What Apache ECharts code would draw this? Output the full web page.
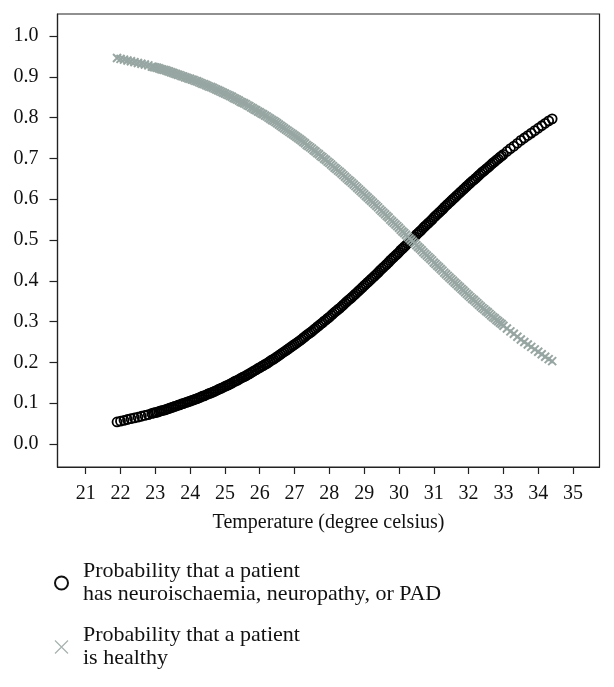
<!DOCTYPE html>
<html><head><meta charset="utf-8">
<script src="https://cdn.jsdelivr.net/npm/echarts@6/dist/echarts.min.js"></script>
<style>html,body{margin:0;padding:0;background:#fff}#c{width:614px;height:687px}</style>
</head><body><div id="c"></div>
<script>
const temperature = [
21.9,22.0,22.1,22.2,22.3,22.4,22.5,22.6,22.7,22.8,
22.9,23.0,23.1,23.2,23.3,23.4,23.5,23.6,23.7,23.8,
23.9,24.0,24.1,24.2,24.3,24.4,24.5,24.6,24.7,24.8,
24.9,25.0,25.1,25.2,25.3,25.4,25.5,25.6,25.7,25.8,
25.9,26.0,26.1,26.2,26.3,26.4,26.5,26.6,26.7,26.8,
26.9,27.0,27.1,27.2,27.3,27.4,27.5,27.6,27.7,27.8,
27.9,28.0,28.1,28.2,28.3,28.4,28.5,28.6,28.7,28.8,
28.9,29.0,29.1,29.2,29.3,29.4,29.5,29.6,29.7,29.8,
29.9,30.0,30.1,30.2,30.3,30.4,30.5,30.6,30.7,30.8,
30.9,31.0,31.1,31.2,31.3,31.4,31.5,31.6,31.7,31.8,
31.9,32.0,32.1,32.2,32.3,32.4,32.5,32.6,32.7,32.8,
32.9,33.0,33.1,33.2,33.3,33.4,33.5,33.6,33.7,33.8,
33.9,34.0,34.1,34.2,34.3,34.4
];
const pDisease = [
0.054,0.056,0.058,0.060,0.062,0.064,0.066,0.068,0.070,0.072,
0.075,0.077,0.079,0.082,0.084,0.087,0.090,0.093,0.096,0.099,
0.102,0.105,0.108,0.111,0.115,0.118,0.122,0.125,0.129,0.133,
0.137,0.141,0.145,0.149,0.154,0.158,0.163,0.167,0.172,0.177,
0.182,0.187,0.192,0.197,0.203,0.208,0.214,0.220,0.226,0.232,
0.238,0.244,0.250,0.256,0.263,0.270,0.276,0.283,0.290,0.297,
0.304,0.311,0.319,0.326,0.333,0.341,0.349,0.356,0.364,0.372,
0.380,0.388,0.396,0.404,0.412,0.420,0.429,0.437,0.445,0.454,
0.462,0.470,0.479,0.487,0.496,0.504,0.513,0.521,0.530,0.538,
0.546,0.555,0.563,0.571,0.580,0.588,0.596,0.604,0.612,0.620,
0.628,0.636,0.644,0.651,0.659,0.667,0.674,0.681,0.689,0.696,
0.703,0.710,0.717,0.724,0.730,0.737,0.744,0.750,0.756,0.762,
0.768,0.774,0.780,0.786,0.792,0.797
];
const pHealthy = [
0.946,0.944,0.942,0.940,0.938,0.936,0.934,0.932,0.930,0.928,
0.925,0.923,0.921,0.918,0.916,0.913,0.910,0.907,0.904,0.901,
0.898,0.895,0.892,0.889,0.885,0.882,0.878,0.875,0.871,0.867,
0.863,0.859,0.855,0.851,0.846,0.842,0.837,0.833,0.828,0.823,
0.818,0.813,0.808,0.803,0.797,0.792,0.786,0.780,0.774,0.768,
0.762,0.756,0.750,0.744,0.737,0.730,0.724,0.717,0.710,0.703,
0.696,0.689,0.681,0.674,0.667,0.659,0.651,0.644,0.636,0.628,
0.620,0.612,0.604,0.596,0.588,0.580,0.571,0.563,0.555,0.546,
0.538,0.530,0.521,0.513,0.504,0.496,0.487,0.479,0.470,0.462,
0.454,0.445,0.437,0.429,0.420,0.412,0.404,0.396,0.388,0.380,
0.372,0.364,0.356,0.349,0.341,0.333,0.326,0.319,0.311,0.304,
0.297,0.290,0.283,0.276,0.270,0.263,0.256,0.250,0.244,0.238,
0.232,0.226,0.220,0.214,0.208,0.203
];
// additional patients in the dense middle of the range
const temperature2 = [
22.95,23.05,23.15,23.25,23.35,23.45,23.55,23.65,23.75,23.85,23.95,
24.05,24.15,24.25,24.35,24.45,24.55,24.65,24.75,24.85,24.95,
25.05,25.15,25.25,25.35,25.45,25.55,25.65,25.75,25.85,25.95,
26.05,26.15,26.25,26.35,26.45,26.55,26.65,26.75,26.85,26.95,
27.05,27.15,27.25,27.35,27.45,27.55,27.65,27.75,27.85,27.95,
28.05,28.15,28.25,28.35,28.45,28.55,28.65,28.75,28.85,28.95,
29.05,29.15,29.25,29.35,29.45,29.55,29.65,29.75,29.85,29.95,
30.05,30.15,30.25,30.35,30.45,30.55,30.65,30.75,30.85,30.95,
31.05,31.15,31.25,31.35,31.45,31.55,31.65,31.75,31.85,31.95,
32.05,32.15,32.25,32.35,32.45,32.55,32.65,32.75,32.85,32.95
];
const pDisease2 = [
0.076,0.078,0.081,0.083,0.086,0.089,0.092,0.095,0.098,0.101,0.104,
0.107,0.110,0.113,0.117,0.120,0.124,0.127,0.131,0.135,0.139,
0.143,0.147,0.152,0.156,0.161,0.165,0.170,0.175,0.180,0.185,
0.190,0.195,0.200,0.206,0.211,0.217,0.223,0.229,0.235,0.241,
0.247,0.253,0.260,0.267,0.273,0.280,0.287,0.294,0.301,0.308,
0.315,0.323,0.330,0.337,0.345,0.353,0.360,0.368,0.376,0.384,
0.392,0.400,0.408,0.416,0.425,0.433,0.441,0.450,0.458,0.466,
0.475,0.483,0.492,0.500,0.508,0.517,0.525,0.534,0.542,0.550,
0.559,0.567,0.575,0.584,0.592,0.600,0.608,0.616,0.624,0.632,
0.640,0.647,0.655,0.663,0.670,0.677,0.685,0.692,0.699,0.706
];
const pHealthy2 = [
0.924,0.922,0.919,0.917,0.914,0.911,0.908,0.905,0.902,0.899,0.896,
0.893,0.890,0.887,0.883,0.880,0.876,0.873,0.869,0.865,0.861,
0.857,0.853,0.848,0.844,0.839,0.835,0.830,0.825,0.820,0.815,
0.810,0.805,0.800,0.794,0.789,0.783,0.777,0.771,0.765,0.759,
0.753,0.747,0.740,0.733,0.727,0.720,0.713,0.706,0.699,0.692,
0.685,0.677,0.670,0.663,0.655,0.647,0.640,0.632,0.624,0.616,
0.608,0.600,0.592,0.584,0.575,0.567,0.559,0.550,0.542,0.534,
0.525,0.517,0.508,0.500,0.492,0.483,0.475,0.466,0.458,0.450,
0.441,0.433,0.425,0.416,0.408,0.400,0.392,0.384,0.376,0.368,
0.360,0.353,0.345,0.337,0.330,0.323,0.315,0.308,0.301,0.294
];
const xTicks = [21,22,23,24,25,26,27,28,29,30,31,32,33,34,35];
const yTicks = [0,0.1,0.2,0.3,0.4,0.5,0.6,0.7,0.8,0.9,1.0];
const nameDisease = 'Probability that a patient\nhas neuroischaemia, neuropathy, or PAD';
const nameHealthy = 'Probability that a patient\nis healthy';
const xTitle = 'Temperature (degree celsius)';

const FONT = '"Liberation Serif", "DejaVu Serif", serif';
const GRAY = '#97a6a2';
const CROSS = 'path://M0,0L10,10M10,0L0,10';

const pts = (xs, ys) => xs.map((t, i) => [t, ys[i]]);

const chart = echarts.init(document.getElementById('c'), null, {renderer:'canvas'});
chart.setOption({
  animation: false,
  backgroundColor: '#fff',
  grid: {left: 57.5, right: 14.5, top: 14, bottom: 220, show: true, borderColor: '#222', borderWidth: 1.2, backgroundColor: 'transparent'},
  xAxis: {
    type: 'value', min: 20.19, max: 35.76,
    name: xTitle, nameLocation: 'middle', nameGap: 46,
    nameTextStyle: {fontFamily: FONT, fontSize: 20, color: '#111'},
    axisLine: {show: true, onZero: false, lineStyle: {color: '#222', width: 1.2}},
    axisTick: {show: true, length: 7, inside: false, customValues: xTicks, lineStyle: {color: '#222', width: 1.2}},
    axisLabel: {customValues: xTicks, margin: 17, fontFamily: FONT, fontSize: 20, color: '#111'},
    splitLine: {show: false}
  },
  yAxis: {
    type: 'value', min: -0.0564, max: 1.0539,
    axisLine: {show: true, onZero: false, lineStyle: {color: '#222', width: 1.2}},
    axisTick: {show: true, length: 8, customValues: yTicks, lineStyle: {color: '#222', width: 1.2}},
    axisLabel: {customValues: yTicks, margin: 19, fontFamily: FONT, fontSize: 20, color: '#111',
      formatter: v => v.toFixed(1)},
    splitLine: {show: false}
  },
  legend: {
    orient: 'vertical', left: 54, top: 560, padding: 0, itemWidth: 13, itemHeight: 13, itemGap: 18,
    selectedMode: false,
    textStyle: {fontFamily: FONT, fontSize: 22, lineHeight: 23, color: '#111', padding: [0, 0, 0, 10]},
    data: [
      {name: nameDisease, icon: 'circle', itemStyle: {color: '#fff', borderColor: '#111', borderWidth: 2}},
      {name: nameHealthy, icon: CROSS, itemStyle: {color: 'transparent', borderColor: '#a8b2b0', borderWidth: 1.2}}
    ]
  },
  series: [
    {
      name: nameDisease, type: 'scatter', symbol: 'circle', symbolSize: 9,
      data: pts(temperature, pDisease).concat(pts(temperature2, pDisease2)),
      itemStyle: {color: 'rgba(255,255,255,0)', borderColor: '#000', borderWidth: 1.8, opacity: 1},
      emphasis: {disabled: true}, silent: true
    },
    {
      name: nameHealthy, type: 'scatter', symbol: CROSS, symbolSize: 8,
      data: pts(temperature, pHealthy).concat(pts(temperature2, pHealthy2)),
      itemStyle: {color: 'rgba(255,255,255,0)', borderColor: GRAY, borderWidth: 2, opacity: 1},
      emphasis: {disabled: true}, silent: true
    }
  ]
});
</script>
</body></html>
